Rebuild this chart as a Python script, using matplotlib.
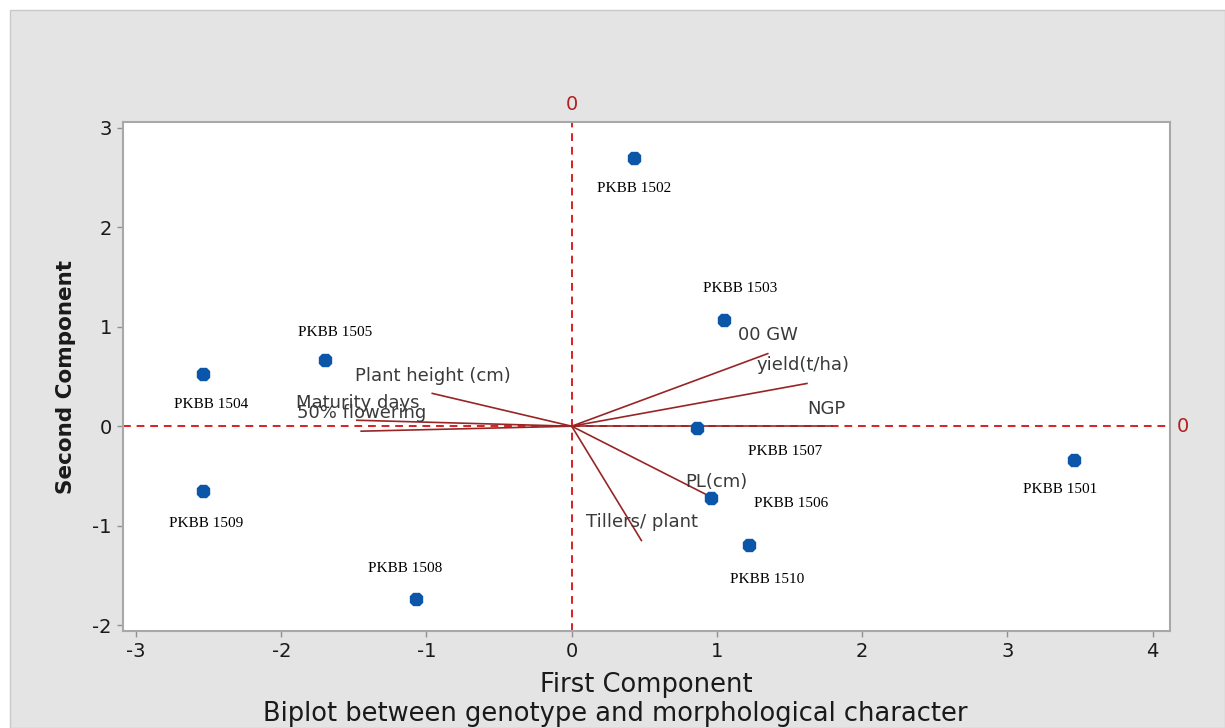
import matplotlib
matplotlib.use("Agg")
import matplotlib.pyplot as plt
from matplotlib.patches import Rectangle

plt.rcParams["axes.unicode_minus"] = False

# Genotype scores
genotypes = ["PKBB 1501", "PKBB 1502", "PKBB 1503", "PKBB 1504", "PKBB 1505",
             "PKBB 1506", "PKBB 1507", "PKBB 1508", "PKBB 1509", "PKBB 1510"]
pc1_scores = [3.46, 0.43, 1.05, -2.54, -1.70, 0.96, 0.86, -1.07, -2.54, 1.22]
pc2_scores = [-0.34, 2.70, 1.07, 0.53, 0.67, -0.72, -0.02, -1.74, -0.65, -1.19]

# Trait loadings (vectors)
traits = ["00 GW", "yield(t/ha)", "NGP", "PL(cm)", "Tillers/ plant",
          "Plant height (cm)", "Maturity days", "50% flowering"]
trait_pc1 = [1.35, 1.62, 1.79, 0.93, 0.48, -0.96, -1.48, -1.45]
trait_pc2 = [0.73, 0.43, 0.00, -0.69, -1.15, 0.33, 0.06, -0.05]

x_ticks = [-3, -2, -1, 0, 1, 2, 3, 4]
y_ticks = [-2, -1, 0, 1, 2, 3]

# label offsets in pixels (layout only)
geno_offsets = {
    "PKBB 1501": (-14, -29), "PKBB 1502": (0, -31), "PKBB 1503": (16, 31),
    "PKBB 1504": (8, -31), "PKBB 1505": (10, 27), "PKBB 1506": (80, -6),
    "PKBB 1507": (89, -23), "PKBB 1508": (-11, 31), "PKBB 1509": (3, -33),
    "PKBB 1510": (18, -35),
}
trait_offsets = {
    "00 GW": (0, 19), "yield(t/ha)": (-4, 18), "NGP": (-5, 17),
    "PL(cm)": (10, 13), "Tillers/ plant": (1, 19),
    "Plant height (cm)": (1, 17), "Maturity days": (1, 17),
    "50% flowering": (0, 18),
}

W, H = 1225, 728
fig = plt.figure(figsize=(W / 100, H / 100), dpi=100)
fig.patch.set_facecolor("white")
fig.add_artist(Rectangle((10 / W, 0), 1 - 10 / W, 1 - 10 / H, transform=fig.transFigure,
                         facecolor="#e4e4e4", edgecolor="#c8c8c8", lw=1.0, zorder=0))

ax = fig.add_axes([123 / W, 1 - 631 / H, (1170 - 123) / W, (631 - 122) / H])
ax.set_facecolor("white")
ax.set_xlim(-3.09, 4.12)
ax.set_ylim(-2.06, 3.06)

for s in ax.spines.values():
    s.set_color("#a8a8a8")
    s.set_linewidth(1.5)

ax.set_xticks(x_ticks)
ax.set_yticks(y_ticks)
ax.tick_params(axis="both", direction="out", length=4, width=1, color="#909090",
               labelsize=14, labelcolor="#1a1a1a", pad=4)

ax.axvline(0, color="#d92020", ls=(0, (4, 3)), lw=1.4, zorder=1)
ax.axhline(0, color="#d92020", ls=(0, (4, 3)), lw=1.4, zorder=1)

vec_color = "#982525"
for name, vx, vy in zip(traits, trait_pc1, trait_pc2):
    ax.plot([0, vx], [0, vy], color=vec_color, lw=1.2, zorder=2)
    dx, dy = trait_offsets[name]
    ax.annotate(name, (vx, vy), xytext=(dx * 0.72, dy * 0.72), textcoords="offset points",
                ha="center", va="center", fontsize=13, color="#3a3a3a",
                family="DejaVu Sans", zorder=3)

ax.plot(pc1_scores, pc2_scores, ls="none", marker="8", ms=9.5, color="#0b56a8",
        mec="#0b56a8", zorder=4)
for name, px, py in zip(genotypes, pc1_scores, pc2_scores):
    dx, dy = geno_offsets[name]
    ax.annotate(name, (px, py), xytext=(dx * 0.72, dy * 0.72), textcoords="offset points",
                ha="center", va="center", fontsize=11, color="black",
                family="Liberation Serif", zorder=5)

# zero reference labels
ax.text(0, 1.0 + 18 / (631 - 122), "0", transform=ax.get_xaxis_transform(),
        ha="center", va="center", color="#b02020", fontsize=14)
ax.text(1.0 + 13 / (1170 - 123), 0, "0", transform=ax.get_yaxis_transform(),
        ha="center", va="center", color="#b02020", fontsize=14)

ax.set_xlabel("First Component", fontsize=18.5, color="#1a1a1a", labelpad=8)
ax.set_ylabel("Second Component", fontsize=15.5, color="#1a1a1a", labelpad=12,
              fontweight="bold")
fig.text(615 / W, 1 - 714 / H, "Biplot between genotype and morphological character",
         ha="center", va="center", fontsize=18.5, color="#1a1a1a")

fig.savefig("out.png", dpi=100, facecolor=fig.get_facecolor())
